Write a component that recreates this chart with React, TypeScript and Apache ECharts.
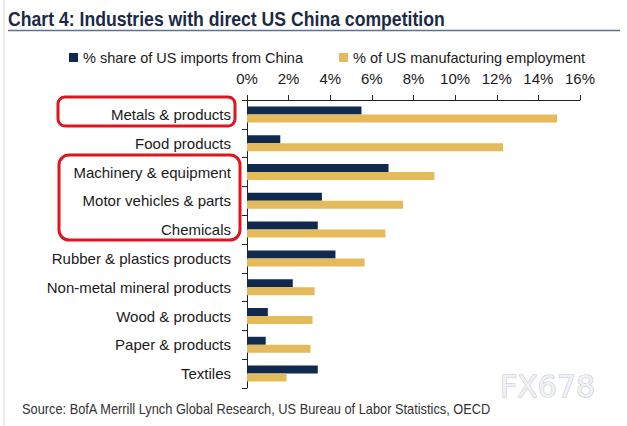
import React, { useEffect, useRef } from "react";
import * as echarts from "echarts";

const categories = [
  "Metals & products",
  "Food products",
  "Machinery & equipment",
  "Motor vehicles & parts",
  "Chemicals",
  "Rubber & plastics products",
  "Non-metal mineral products",
  "Wood & products",
  "Paper & products",
  "Textiles",
];
const importsShare = [5.5, 1.6, 6.8, 3.6, 3.4, 4.25, 2.2, 1.0, 0.9, 3.4];
const employmentShare = [14.9, 12.3, 9.0, 7.5, 6.65, 5.65, 3.25, 3.15, 3.05, 1.9];
const seriesNames = ["% share of US imports from China", "% of US manufacturing employment"];
const titleText = "Chart 4: Industries with direct US China competition";
const sourceText = "Source: BofA Merrill Lynch Global Research, US Bureau of Labor Statistics, OECD";

const FONT = "'Liberation Sans', Arial, sans-serif";
const NAVY = "#10294f";
const GOLD = "#e5ba5a";

export default function App() {
  const ref = useRef<HTMLDivElement>(null);
  useEffect(() => {
    if (!ref.current) return;
    const chart = echarts.init(ref.current, null, { renderer: "svg" });
    chart.setOption({
      animation: false,
      backgroundColor: "#ffffff",
      textStyle: { fontFamily: FONT },
      legend: {
        left: 64,
        top: 45,
        icon: "rect",
        itemWidth: 9,
        itemHeight: 9,
        itemGap: 36,
        textStyle: { fontFamily: FONT, fontSize: 14.5, color: "#1a1a1a" },
        data: seriesNames,
      },
      grid: { left: 247, right: 47, top: 100, bottom: 38 },
      xAxis: {
        type: "value",
        position: "top",
        min: 0,
        max: 16,
        interval: 2,
        axisLine: { show: true, lineStyle: { color: "#222", width: 1 } },
        axisTick: { show: true, length: 5, lineStyle: { color: "#222" } },
        splitLine: { show: false },
        axisLabel: {
          formatter: "{value}%",
          fontFamily: FONT,
          fontSize: 15,
          color: "#1a1a1a",
          margin: 14,
        },
      },
      yAxis: {
        type: "category",
        inverse: true,
        data: categories,
        axisLine: { show: true, lineStyle: { color: "#222", width: 1 } },
        axisTick: { show: true, length: 5, lineStyle: { color: "#222" } },
        axisLabel: { fontFamily: FONT, fontSize: 15, color: "#1a1a1a", margin: 16 },
      },
      series: [
        {
          name: seriesNames[0],
          type: "bar",
          data: importsShare,
          barWidth: 8,
          barGap: "0%",
          itemStyle: { color: NAVY },
        },
        {
          name: seriesNames[1],
          type: "bar",
          data: employmentShare,
          barWidth: 8,
          barGap: "0%",
          itemStyle: { color: GOLD },
        },
      ],
      graphic: [
        {
          type: "line",
          shape: { x1: 4, y1: 0, x2: 4, y2: 426 },
          style: { stroke: "#d8d8d8", lineWidth: 1 },
        },
        {
          type: "text",
          x: 8,
          y: 18,
          scaleX: 0.84,
          style: {
            text: titleText,
            font: `bold 21px ${FONT}`,
            fill: "#1b2a47",
            verticalAlign: "middle",
          },
        },
        {
          type: "line",
          shape: { x1: 8, y1: 30.5, x2: 620, y2: 30.5 },
          style: { stroke: "#5d7191", lineWidth: 1.5 },
        },
        {
          type: "rect",
          shape: { x: 58, y: 97, width: 177, height: 29, r: 7 },
          style: { fill: "none", stroke: "#e0141c", lineWidth: 3 },
        },
        {
          type: "rect",
          shape: { x: 59, y: 155, width: 181, height: 85, r: 10 },
          style: { fill: "none", stroke: "#e0141c", lineWidth: 3 },
        },
        {
          type: "text",
          x: 500,
          y: 386,
          style: {
            text: "FX678",
            font: `30px 'DejaVu Sans', sans-serif`,
            fill: "#f0f1f4",
            stroke: "#bcc2cd",
            lineWidth: 1,
            verticalAlign: "middle",
          },
        },
        {
          type: "text",
          x: 22,
          y: 409,
          scaleX: 0.915,
          style: {
            text: sourceText,
            font: `14px ${FONT}`,
            fill: "#333333",
            verticalAlign: "middle",
          },
        },
      ],
    });
    return () => chart.dispose();
  }, []);
  return (
    <div
      ref={ref}
      style={{ position: "absolute", left: 0, top: 0, width: 627, height: 426 }}
    />
  );
}
